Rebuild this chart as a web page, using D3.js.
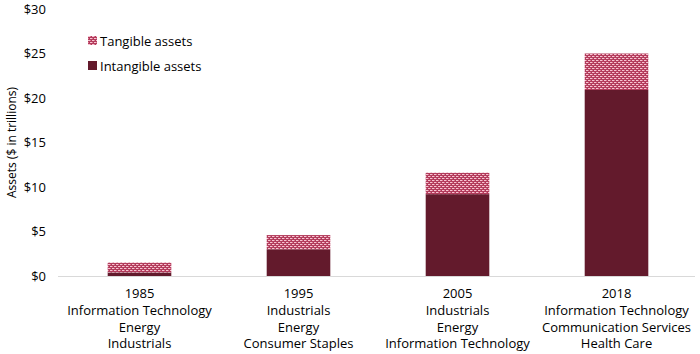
<!DOCTYPE html>
<html>
<head>
<meta charset="utf-8">
<script src="https://cdn.jsdelivr.net/npm/d3@7"></script>
<style>
    body { margin: 0; background: #fff; }
    svg text { font-family: "Open Sans", "Noto Sans", sans-serif; fill: #000; }
</style>
</head>
<body>
<div id="chart"></div>
<script>
var years = ["1985", "1995", "2005", "2018"];
var sectors = [
    ["Information Technology", "Energy", "Industrials"],
    ["Industrials", "Energy", "Consumer Staples"],
    ["Industrials", "Energy", "Information Technology"],
    ["Information Technology", "Communication Services", "Health Care"]
];
var intangible = [0.4, 3.0, 9.2, 20.9];
var tangible = [1.1, 1.6, 2.4, 4.1];
var yTicks = [0, 5, 10, 15, 20, 25, 30];

var width = 700, height = 354;
var margin = { top: 9, right: 5, bottom: 78, left: 58 };
var fontSize = 13;

var svg = d3.select("#chart").append("svg")
    .attr("width", width)
    .attr("height", height);

// pattern for tangible assets
var defs = svg.append("defs");
var pat = defs.append("pattern")
    .attr("id", "tangiblePattern")
    .attr("patternUnits", "userSpaceOnUse")
    .attr("width", 4)
    .attr("height", 4);
pat.append("rect").attr("width", 4).attr("height", 4).attr("fill", "#b23c5c");
pat.append("rect").attr("x", 0).attr("y", 0).attr("width", 2).attr("height", 1).attr("fill", "#f6c4d1");
pat.append("rect").attr("x", 2).attr("y", 2).attr("width", 2).attr("height", 1).attr("fill", "#f6c4d1");
pat.append("rect").attr("x", 2).attr("y", 0).attr("width", 1).attr("height", 1).attr("fill", "#dc7893");
pat.append("rect").attr("x", 0).attr("y", 2).attr("width", 1).attr("height", 1).attr("fill", "#dc7893");

var x = d3.scaleBand()
    .domain(years)
    .range([margin.left + 2, width - margin.right + 1])
    .paddingInner(0.6)
    .paddingOuter(0.3);

var y = d3.scaleLinear()
    .domain([0, 30])
    .range([height - margin.bottom, margin.top]);

var darkColor = "#631a2c";

// y axis tick labels
var yAxis = svg.append("g")
    .attr("transform", "translate(" + (margin.left - 12) + ",0)")
    .call(d3.axisLeft(y).tickValues(yTicks).tickSize(0).tickFormat(function (d) { return "$" + d; }));
yAxis.select(".domain").remove();
yAxis.selectAll("text").attr("font-size", fontSize).attr("x", 0)
    .style("font-family", "'Open Sans', sans-serif").style("fill", "#000");

// y axis title
svg.append("text")
    .attr("transform", "translate(16," + ((y(0) + y(30)) / 2) + ") rotate(-90)")
    .attr("text-anchor", "middle")
    .attr("font-size", 12)
    .text("Assets ($ in trillions)");

// bars
var bars = svg.append("g");
years.forEach(function (yr, i) {
    bars.append("rect")
        .attr("x", x(yr))
        .attr("width", x.bandwidth())
        .attr("y", y(intangible[i]))
        .attr("height", y(0) - y(intangible[i]))
        .attr("fill", darkColor);
    bars.append("rect")
        .attr("x", x(yr))
        .attr("width", x.bandwidth())
        .attr("y", y(intangible[i] + tangible[i]))
        .attr("height", y(intangible[i]) - y(intangible[i] + tangible[i]))
        .attr("fill", "url(#tangiblePattern)");
});

// baseline
svg.append("line")
    .attr("x1", margin.left)
    .attr("x2", width - margin.right)
    .attr("y1", y(0) + 0.5)
    .attr("y2", y(0) + 0.5)
    .attr("stroke", "#d9d9d9")
    .attr("stroke-width", 1);

// x labels
years.forEach(function (yr, i) {
    var cx = x(yr) + x.bandwidth() / 2;
    var lines = [yr].concat(sectors[i]);
    var t = svg.append("text")
        .attr("text-anchor", "middle")
        .attr("font-size", fontSize);
    lines.forEach(function (l, j) {
        t.append("tspan")
            .attr("x", cx)
            .attr("y", y(0) + 22 + j * 16.8)
            .text(l);
    });
});

// legend
var legend = [
    { text: "Tangible assets", fill: "url(#tangiblePattern)" },
    { text: "Intangible assets", fill: darkColor }
];
legend.forEach(function (d, i) {
    var ly = 41 + i * 25;
    svg.append("rect")
        .attr("x", 88)
        .attr("y", ly - 5)
        .attr("width", 9)
        .attr("height", 9)
        .attr("fill", d.fill);
    svg.append("text")
        .attr("x", 100)
        .attr("y", ly + 4.5)
        .attr("font-size", fontSize)
        .text(d.text);
});
</script>
</body>
</html>
